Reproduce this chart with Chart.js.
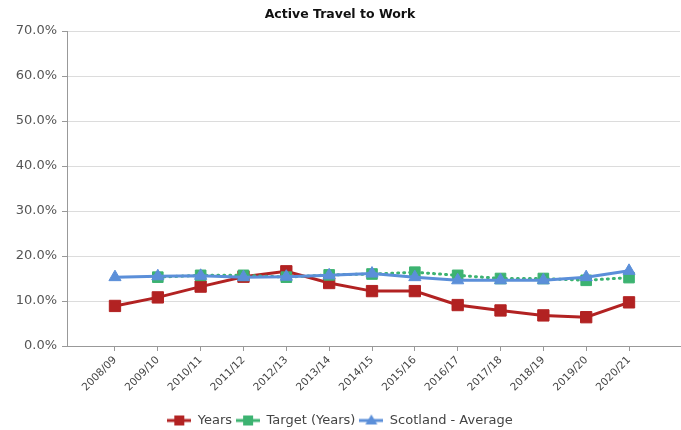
<!DOCTYPE html>
<html>
<head>
<meta charset="utf-8">
<script src="https://cdn.jsdelivr.net/npm/chart.js@4"></script>
<style>
  html, body { margin: 0; padding: 0; background: #fff; }
  #wrap { width: 681px; height: 430px; }
</style>
</head>
<body>
<div id="wrap"><canvas id="chart" width="681" height="430"></canvas></div>
<script>
// chart data
const years = ['2008/09', '2009/10', '2010/11', '2011/12', '2012/13', '2013/14', '2014/15',
               '2015/16', '2016/17', '2017/18', '2018/19', '2019/20', '2020/21'];
const yearsValues = [8.9, 10.8, 13.2, 15.4, 16.6, 14.0, 12.2, 12.2, 9.1, 7.9, 6.8, 6.4, 9.7];
const targetValues = [null, 15.3, 15.7, 15.7, 15.3, 15.8, 16.0, 16.4, 15.7, 15.0, 15.0, 14.6, 15.2];
const scotlandValues = [15.3, 15.5, 15.6, 15.3, 15.4, 15.7, 16.1, 15.3, 14.6, 14.6, 14.6, 15.3, 16.7];
const yTicks = [0, 10, 20, 30, 40, 50, 60, 70];

const red = '#b22222';
const green = '#3cb371';
const blue = '#5b8fd9';

// little line+marker pictures for the legend
function legendIcon(color, shape) {
  const c = document.createElement('canvas');
  c.width = 24; c.height = 14;
  const g = c.getContext('2d');
  g.strokeStyle = color; g.fillStyle = color; g.lineWidth = 3;
  g.beginPath(); g.moveTo(0, 7); g.lineTo(24, 7); g.stroke();
  if (shape === 'rect') {
    g.fillRect(7, 2, 10, 10);
  } else {
    g.beginPath(); g.moveTo(12, 1); g.lineTo(18, 11); g.lineTo(6, 11); g.closePath(); g.fill();
  }
  return c;
}

const toPoints = arr => arr.map((v, i) => ({ x: i, y: v }));

new Chart(document.getElementById('chart'), {
  type: 'line',
  data: {
    datasets: [
      {
        label: 'Years',
        data: toPoints(yearsValues),
        borderColor: red, backgroundColor: red,
        borderWidth: 3, pointBorderWidth: 1,
        pointStyle: 'rect', pointRadius: 8, pointHoverRadius: 8,
        order: 2, legendIcon: legendIcon(red, 'rect')
      },
      {
        label: 'Target (Years)',
        data: toPoints(targetValues),
        borderColor: green, backgroundColor: green,
        borderWidth: 3, borderDash: [1, 5], borderCapStyle: 'round',
        pointBorderWidth: 1,
        pointStyle: 'rect', pointRadius: 7.5, pointHoverRadius: 7.5,
        order: 1, legendIcon: legendIcon(green, 'rect')
      },
      {
        label: 'Scotland - Average',
        data: toPoints(scotlandValues),
        borderColor: blue, backgroundColor: blue,
        borderWidth: 3, pointBorderWidth: 1,
        pointStyle: 'triangle', pointRadius: 7, pointHoverRadius: 7,
        order: 0, legendIcon: legendIcon(blue, 'triangle')
      }
    ]
  },
  options: {
    responsive: false,
    animation: false,
    layout: { autoPadding: false, padding: { top: 0, right: 1, bottom: -7, left: 0 } },
    plugins: {
      title: {
        display: true,
        text: 'Active Travel to Work',
        color: '#111',
        font: { family: 'DejaVu Sans', size: 12.5, weight: 'bold' },
        padding: { top: 7, bottom: 9 }
      },
      legend: {
        position: 'bottom',
        labels: {
          color: '#444',
          font: { family: 'DejaVu Sans', size: 13 },
          usePointStyle: true,
          pointStyleWidth: 24,
          padding: 4,
          generateLabels: chart => chart.data.datasets.map((ds, i) => ({
            text: ds.label,
            pointStyle: ds.legendIcon,
            fillStyle: ds.borderColor,
            strokeStyle: ds.borderColor,
            fontColor: '#444',
            lineWidth: 0,
            datasetIndex: i,
            hidden: false
          }))
        }
      },
      tooltip: { enabled: false }
    },
    scales: {
      x: {
        type: 'linear',
        min: -1.12,
        max: 13.19,
        afterBuildTicks: scale => { scale.ticks = years.map((_, i) => ({ value: i })); },
        afterFit: scale => { scale.height = 64; scale.paddingLeft = 0; scale.paddingRight = 0; },
        ticks: {
          autoSkip: false,
          minRotation: 45, maxRotation: 45,
          color: '#444',
          font: { family: 'DejaVu Sans', size: 10.5 },
          callback: v => years[v]
        },
        grid: { display: true, drawOnChartArea: false, color: '#999', tickLength: 5 },
        border: { color: '#999' }
      },
      y: {
        min: 0, max: 70,
        afterBuildTicks: scale => { scale.ticks = yTicks.map(v => ({ value: v })); },
        afterFit: scale => { scale.width = 67; },
        ticks: {
          color: '#555',
          font: { family: 'DejaVu Sans', size: 13 },
          padding: 5,
          callback: v => v.toFixed(1) + '%'
        },
        grid: { color: '#dcdcdc', tickColor: '#999', tickLength: 5 },
        border: { color: '#999' }
      }
    }
  }
});
</script>
</body>
</html>
